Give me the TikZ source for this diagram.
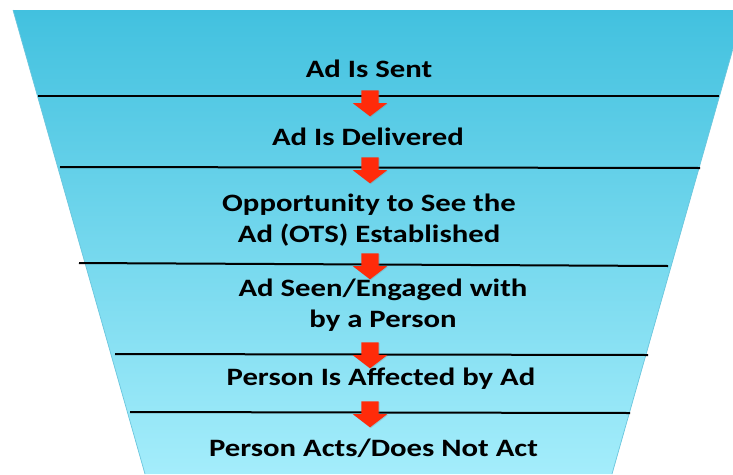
\documentclass[tikz,border=0pt]{standalone}
\usepackage{fontspec}
\setmainfont{Carlito}
\newfontfamily\stagefont[FakeStretch=1.23]{Carlito}
\usepackage{xcolor}
\usetikzlibrary{shapes.arrows,shadows}
\definecolor{funneltop}{HTML}{42C1DF}
\definecolor{funnelmid}{HTML}{68D4EC}
\definecolor{funnelbot}{HTML}{A4EDFB}
\definecolor{funneledge}{HTML}{6BC6DD}
\definecolor{arrowred}{HTML}{FF2B0A}
\tikzset{
  stagetext/.style={font=\stagefont\fontsize{25}{31}\selectfont\bfseries, align=center, anchor=base, inner sep=0pt},
  divider/.style={line width=2pt, black},
  flowarrow/.style={single arrow, shape border rotate=270, fill=arrowred, draw=none,
    minimum height=26pt, minimum width=34pt, inner sep=8.5pt,
    single arrow head extend=8.5pt, single arrow tip angle=105,
    drop shadow={opacity=0.3, shadow xshift=0.8pt, shadow yshift=-0.8pt}}
}
\begin{document}
\begin{tikzpicture}[x=1pt,y=-1pt]
            \useasboundingbox (0,0) rectangle (733,474);
            % Funnel
            \shade[top color=funneltop, middle color=funnelmid, bottom color=funnelbot]
                (13,10) -- (744,10) -- (612,474) -- (145,474) -- cycle;
            \draw[funneledge, line width=0.7pt] (13,10) -- (145,474);
            \draw[funneledge, line width=0.7pt] (744,10) -- (612,474);
            % Dividers
            \draw[divider] (38,96) -- (719,96);
            \draw[divider] (60,167) -- (700,168);
            \draw[divider] (79,263) -- (668,266);
            \draw[divider] (115,354) -- (648,355);
            \draw[divider] (130,412) -- (630,413);
            % Arrows
            \node[flowarrow] (a1) at (370,100) {};
            \node[flowarrow] (a2) at (370,167) {};
            \node[flowarrow] (a3) at (370,263) {};
            \node[flowarrow] (a4) at (370,352) {};
            \node[flowarrow] (a5) at (370,411) {};
            % Stages
            \node[stagetext] (sent) at (369,77) {Ad Is Sent};
            \node[stagetext] (delivered) at (368,145) {Ad Is Delivered};
            \node[stagetext] (ots) at (369,242) {Opportunity to See the\\Ad (OTS) Established};
            \node[stagetext] (seen) at (383,327) {Ad Seen/Engaged with\\by a Person};
            \node[stagetext] (affected) at (381,385) {Person Is Affected by Ad};
            \node[stagetext] (acts) at (373.5,456) {Person Acts/Does Not Act};
\end{tikzpicture}
\end{document}
